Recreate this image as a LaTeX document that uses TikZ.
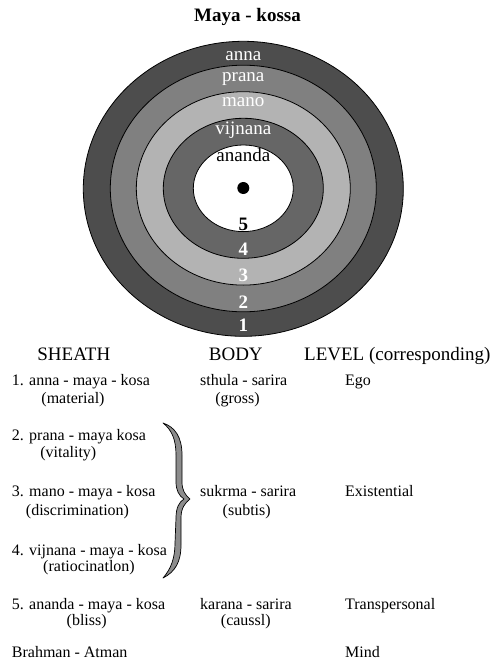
\documentclass[tikz,border=0pt]{standalone}
\usepackage{fontspec}
\setmainfont{Liberation Serif}
\definecolor{ringA}{HTML}{4D4D4D}
\definecolor{ringB}{HTML}{808080}
\definecolor{ringC}{HTML}{B3B3B3}
\definecolor{ringD}{HTML}{666666}
\definecolor{bracegray}{HTML}{8C8C8C}
\begin{document}
\begin{tikzpicture}[x=1pt,y=-1pt,
  ring/.style={draw=black,line width=0.8pt},
  ringlbl/.style={font=\fontsize{19}{22}\selectfont,inner sep=0pt,anchor=base},
  numlbl/.style={font=\fontsize{19}{22}\selectfont\bfseries,inner sep=0pt,anchor=base},
  head/.style={font=\fontsize{19}{22}\selectfont,inner sep=0pt},
  first/.style={font=\fontsize{16}{19}\selectfont,inner sep=0pt,anchor=base west},
  second/.style={font=\fontsize{16}{19}\selectfont,inner sep=0pt,anchor=base}]
\useasboundingbox (0,0) rectangle (495,664);
\fill[white] (0,0) rectangle (495,664);
% title
\node[font=\fontsize{19}{22}\selectfont\bfseries,inner sep=0pt,anchor=base] (title) at (247.5,21.7) {Maya - kossa};
% rings
\draw[ring,fill=ringA] (243.3,188.8) ellipse [x radius=160pt,y radius=147.5pt];
\draw[ring,fill=ringB] (243.3,188.5) ellipse [x radius=133pt,y radius=123.3pt];
\draw[ring,fill=ringC] (243.3,188.4) ellipse [x radius=107pt,y radius=96.7pt];
\draw[ring,fill=ringD] (243.3,188.3) ellipse [x radius=80pt,y radius=70pt];
\draw[ring,fill=white] (243.3,188.3) ellipse [x radius=50pt,y radius=43.3pt];
\fill[black] (243.3,188) circle [radius=6pt];
% ring labels
\node[ringlbl,text=white] (anna) at (243.3,60.5) {anna};
\node[ringlbl,text=white] (prana) at (243.3,81.5) {prana};
\node[ringlbl,text=white] (mano) at (243.3,106.5) {mano};
\node[ringlbl,text=white] (vijnana) at (243.3,134) {vijnana};
\node[ringlbl,text=black] (ananda) at (243.3,161) {ananda};
\node[numlbl,text=black] (n5) at (243.3,230) {5};
\node[numlbl,text=white] (n4) at (243.3,255.5) {4};
\node[numlbl,text=white] (n3) at (243.3,281.7) {3};
\node[numlbl,text=white] (n2) at (243.3,308) {2};
\node[numlbl,text=white] (n1) at (243.3,331) {1};
% headers
\node[head,anchor=base] (sheath) at (73.8,360.7) {SHEATH};
\node[head,anchor=base] (body) at (235.8,360.7) {BODY};
\node[head,anchor=base west] (level) at (304,360.7) {LEVEL (corresponding)};
% sheath column
\node[first] (s1) at (11.7,385.5) {1. anna - maya - kosa};
\node[second] (s1b) at (73,403) {(material)};
\node[first] (s2) at (11.7,440) {2. prana - maya kosa};
\node[second] (s2b) at (68.3,457.5) {(vitality)};
\node[first] (s3) at (11.7,496) {3. mano - maya - kosa};
\node[second] (s3b) at (77.5,515) {(discrimination)};
\node[first] (s4) at (11.7,555) {4. vijnana - maya - kosa};
\node[second] (s4b) at (89,571.5) {(ratiocinatlon)};
\node[first] (s5) at (11.7,609) {5. ananda - maya - kosa};
\node[second] (s5b) at (86.7,625) {(bliss)};
\node[first] (s6) at (11.7,657) {Brahman - Atman};
% body column
\node[first] (b1) at (200,385.5) {sthula - sarira};
\node[second] (b1b) at (237.5,403) {(gross)};
\node[first] (b2) at (200,496) {sukrma - sarira};
\node[second] (b2b) at (246.7,515) {(subtis)};
\node[first] (b3) at (200,609) {karana - sarira};
\node[second] (b3b) at (245.8,625) {(caussl)};
% level column
\node[first] (l1) at (345,385.5) {Ego};
\node[first] (l2) at (345,496) {Existential};
\node[first] (l3) at (345,609) {Transpersonal};
\node[first] (l4) at (345,657) {Mind};
% brace
\draw[fill=bracegray,line width=0.7pt,line join=round]
  (163,423) .. controls (175,427) and (182,437) .. (182,455)
  -- (182,482) .. controls (182,490) and (185,495) .. (190,499)
  .. controls (185,503) and (181,508) .. (181,518)
  -- (181,545) .. controls (181,562) and (175,572) .. (163,578)
  .. controls (171,569) and (175,558) .. (175,543)
  -- (176,518) .. controls (176,508) and (179,502) .. (184,499)
  .. controls (179,496) and (176,490) .. (176,482)
  -- (176,455) .. controls (176,440) and (172,430) .. (163,423) -- cycle;
\end{tikzpicture}
\end{document}
